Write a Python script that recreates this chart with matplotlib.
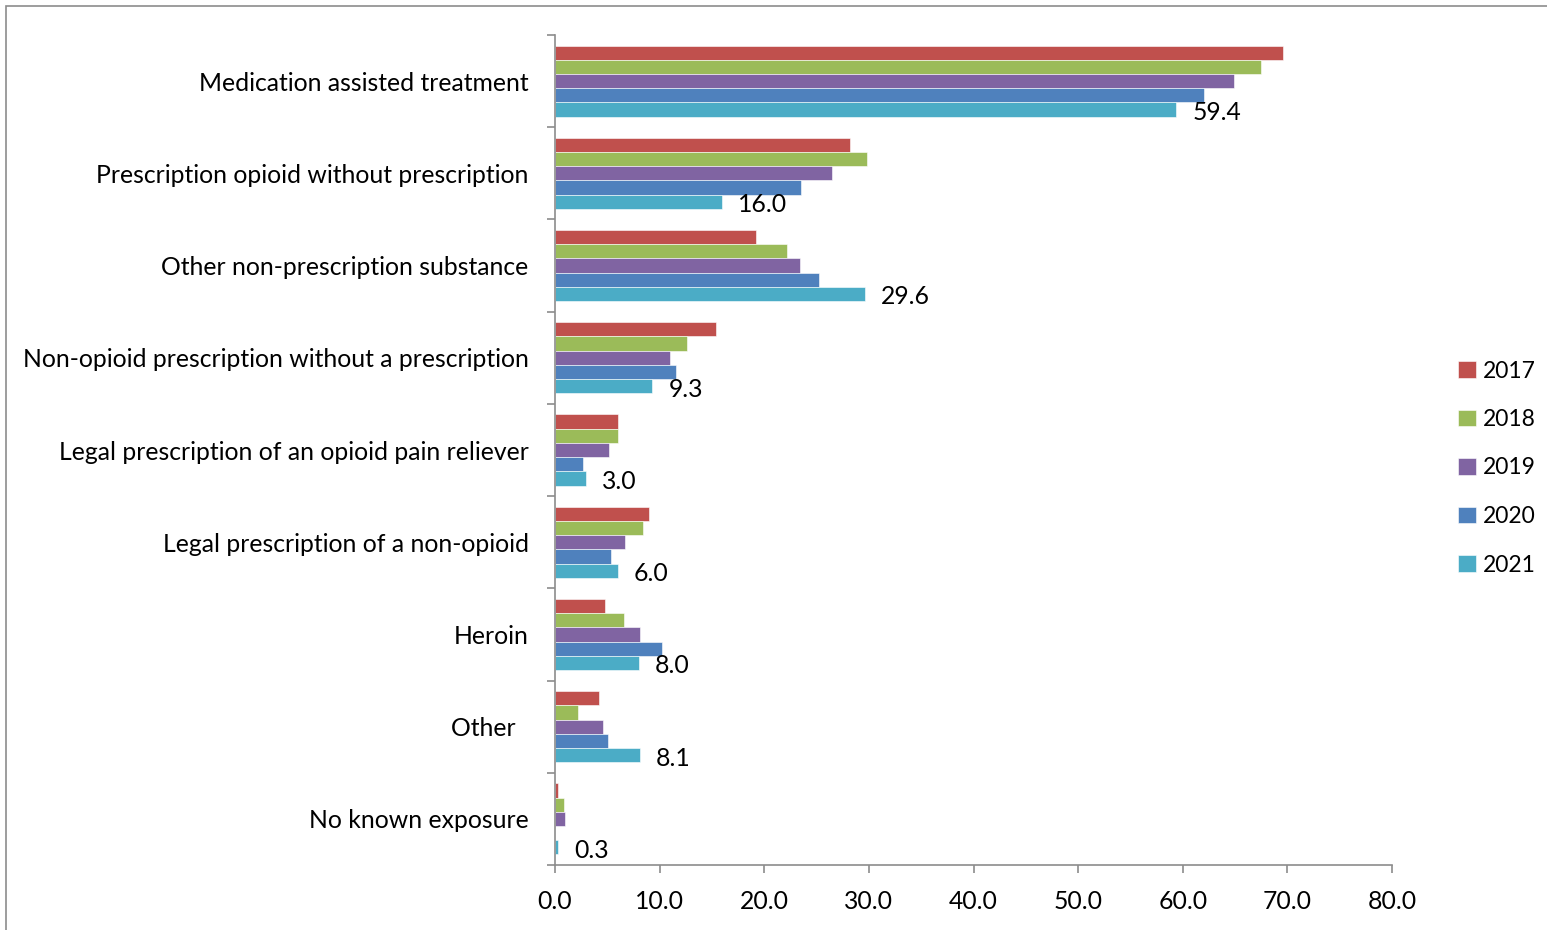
import matplotlib
matplotlib.use("Agg")
import matplotlib.pyplot as plt
from matplotlib.patches import Rectangle
import numpy as np

plt.rcParams['font.family'] = ['Lato', 'DejaVu Sans']

categories = [
    "Medication assisted treatment",
    "Prescription opioid without prescription",
    "Other non-prescription substance",
    "Non-opioid prescription without a prescription",
    "Legal prescription of an opioid pain reliever",
    "Legal prescription of a non-opioid",
    "Heroin",
    "Other  ",
    "No known exposure",
]
years = ["2017", "2018", "2019", "2020", "2021"]
v2017 = [69.6, 28.2, 19.2, 15.4, 6.0, 9.0, 4.8, 4.2, 0.3]
v2018 = [67.5, 29.8, 22.2, 12.6, 6.0, 8.4, 6.6, 2.2, 0.9]
v2019 = [64.9, 26.5, 23.4, 11.0, 5.2, 6.7, 8.1, 4.6, 1.0]
v2020 = [62.0, 23.5, 25.2, 11.6, 2.7, 5.4, 10.2, 5.1, 0.0]
v2021 = [59.4, 16.0, 29.6, 9.3, 3.0, 6.0, 8.0, 8.1, 0.3]
series = [v2017, v2018, v2019, v2020, v2021]
colors = ["#C0504D", "#9BBB59", "#8064A2", "#4F81BD", "#4BACC6"]
xticks = [0, 10, 20, 30, 40, 50, 60, 70, 80]

FS = 17.8
W, H = 1547, 930
fig = plt.figure(figsize=(W / 100, H / 100), dpi=100)
fig.patches.append(Rectangle((6 / W, -0.1), 1.2, 1 - 6 / H + 0.1,
                             transform=fig.transFigure, fill=False,
                             edgecolor="#8c8c8c", linewidth=1.2))
ax = fig.add_axes([555 / W, 65 / H, 837 / W, 830 / H])

n = len(categories)
y = np.arange(n)
h = 0.154
for k, (vals, c) in enumerate(zip(series, colors)):
    ax.barh(y + (k - 2) * h, vals, height=h, color=c, label=years[k],
            edgecolor="white", linewidth=0.4)

for i, v in enumerate(v2021):
    ax.annotate(f"{v:.1f}", (v, y[i] + 2 * h), xytext=(16, -3),
                textcoords="offset pixels", ha="left", va="center",
                fontsize=FS, color="black")

ax.set_xlim(0, 80)
ax.set_ylim(n - 0.5, -0.5)
ax.set_xticks(xticks)
ax.set_xticklabels([f"{t:.1f}" for t in xticks], fontsize=FS)
ax.set_yticks(y)
ax.set_yticklabels(categories, fontsize=FS)
ax.set_yticks(np.arange(-0.5, n, 1.0), minor=True)
ax.tick_params(axis="y", which="major", length=0, pad=19)
ax.tick_params(axis="y", which="minor", length=6, color="#8c8c8c", width=1.2)
ax.tick_params(axis="x", length=6, color="#8c8c8c", width=1.2, pad=12)
for s in ["top", "right"]:
    ax.spines[s].set_visible(False)
for s in ["left", "bottom"]:
    ax.spines[s].set_color("#8c8c8c")
    ax.spines[s].set_linewidth(1.2)

handles, labels = ax.get_legend_handles_labels()
fig.legend(handles, labels, loc="center left", bbox_to_anchor=(1447 / W, 1 - 468 / H),
           frameon=False, fontsize=16.5, handlelength=0.75, handleheight=0.75,
           handletextpad=0.3, labelspacing=1.2, borderpad=0)

fig.savefig("out.png", dpi=100)
